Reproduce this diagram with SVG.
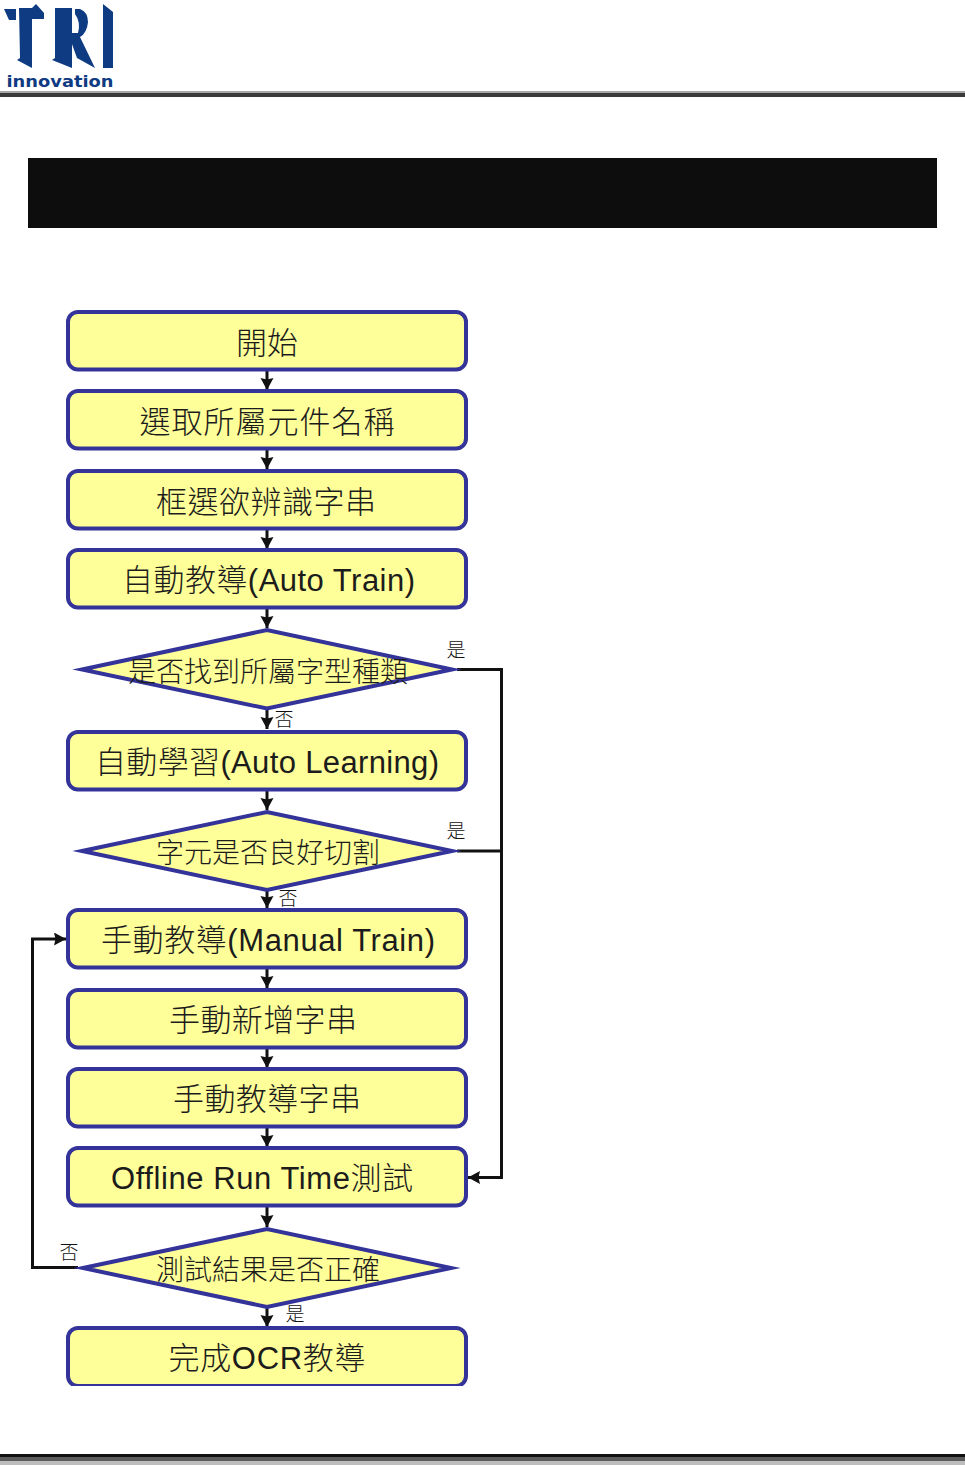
<svg xmlns="http://www.w3.org/2000/svg" width="965" height="1465" viewBox="0 0 965 1465">
<style>
.b{fill:#ffff99;stroke:#333399;stroke-width:4;stroke-miterlimit:20}
.t{font-family:"Liberation Sans","Noto Sans CJK TC",sans-serif;font-size:31px;font-weight:300;fill:#1c1c1c;text-anchor:middle}
.s{font-size:28px}
.l{font-family:"Noto Sans CJK TC",sans-serif;font-size:19px;font-weight:300;fill:#111;text-anchor:middle}
.c{fill:none;stroke:#111;stroke-width:3}
.a{stroke:#111;stroke-width:3;fill:none;marker-end:url(#m)}
</style>
<defs>
<marker id="m" markerUnits="userSpaceOnUse" markerWidth="14" markerHeight="14" refX="12" refY="6.500" orient="auto"><path d="M0 0L12 6.500L0 13L1.500 6.500Z" fill="#111"/></marker>
<clipPath id="cl"><rect x="0" y="1300" width="965" height="86"/></clipPath>
</defs>
<rect width="965" height="1465" fill="#fff"/>
<g id="logo" fill="#0f3b82">
<path d="M4 9L16 9L16 20L9 20Z"/>
<path d="M19 8L32 8L36 4L44 13L44 19L32 19L32 68L17 60L20 58Z"/>
<path d="M55 8L72 8L72 68L52 60L55 58Z"/>
<path d="M75 9L80 9Q88 12 88 22Q87 33 80 37L95 68L77 58L68 33L78 33Q81 22 75 14Z"/>
<path d="M103 4L113 12L113 68L103 68Z"/>
<text x="60" y="87" font-family="'DejaVu Sans',sans-serif" font-size="16" font-weight="700" text-anchor="middle" textLength="107" lengthAdjust="spacingAndGlyphs">innovation</text>
</g>
<g id="header-rule"><rect x="0" y="91" width="965" height="2" fill="#a8a8a8"/><rect x="0" y="93" width="965" height="4" fill="#3a3a3a"/></g>
<rect id="title-bar" x="28" y="158" width="909" height="70" fill="#0d0d0d"/>
<g id="footer-rule"><rect x="0" y="1454" width="965" height="3" fill="#111"/><rect x="0" y="1457" width="965" height="4" fill="#5c5c5c"/><rect x="0" y="1461" width="965" height="4" fill="#bdbdbd"/></g>
<g id="connectors">
<path class="a" d="M267 370V390"/><path class="a" d="M267 449V469"/><path class="a" d="M267 529V549"/><path class="a" d="M267 608V628"/>
<path class="a" d="M267 710V729"/><path class="a" d="M267 790V810"/><path class="a" d="M267 891V908"/><path class="a" d="M267 968V988"/>
<path class="a" d="M267 1048V1068"/><path class="a" d="M267 1127V1147"/><path class="a" d="M267 1207V1227"/><path class="a" d="M267 1308V1327"/>
<path class="c" d="M457 669.500H501.500V851"/>
<path class="c" d="M457 851H501.500"/>
<path class="a" d="M501.500 851V1177.500H468"/>
<path class="a" d="M78 1267.500H32.500V939H66"/>
</g>
<g id="n1"><rect class="b" x="68" y="312" width="398" height="57.500" rx="10"/><text class="t" x="267" y="354">開始</text></g>
<g id="n2"><rect class="b" x="68" y="391" width="398" height="57.500" rx="10"/><text class="t" x="267" y="433" textLength="255">選取所屬元件名稱</text></g>
<g id="n3"><rect class="b" x="68" y="471" width="398" height="57.500" rx="10"/><text class="t" x="266" y="513" textLength="220">框選欲辨識字串</text></g>
<g id="n4"><rect class="b" x="68" y="550" width="398" height="57.500" rx="10"/><text class="t" x="268.500" y="591" textLength="293">自動教導(Auto Train)</text></g>
<g id="d1"><path class="b" d="M82 669.500L267 630L452 669.500L267 708.500Z"/><text class="t s" x="268" y="682">是否找到所屬字型種類</text></g>
<g id="n5"><rect class="b" x="68" y="732" width="398" height="57.500" rx="10"/><text class="t" x="267" y="773" textLength="344">自動學習(Auto Learning)</text></g>
<g id="d2"><path class="b" d="M82 851L267 812L452 851L267 890Z"/><text class="t s" x="268" y="863">字元是否良好切割</text></g>
<g id="n6"><rect class="b" x="68" y="910" width="398" height="57.500" rx="10"/><text class="t" x="268" y="951" textLength="334">手動教導(Manual Train)</text></g>
<g id="n7"><rect class="b" x="68" y="990" width="398" height="57.500" rx="10"/><text class="t" x="263" y="1031" textLength="188">手動新增字串</text></g>
<g id="n8"><rect class="b" x="68" y="1069" width="398" height="57.500" rx="10"/><text class="t" x="267" y="1110" textLength="188">手動教導字串</text></g>
<g id="n9"><rect class="b" x="68" y="1148" width="398" height="57.500" rx="10"/><text class="t" x="262" y="1189" textLength="302">Offline Run Time測試</text></g>
<g id="d3"><path class="b" d="M83 1268L267 1229L451 1268L267 1307Z"/><text class="t s" x="268" y="1280">測試結果是否正確</text></g>
<g id="n10"><g clip-path="url(#cl)"><rect class="b" x="68" y="1328" width="398" height="58" rx="10"/></g><text class="t" x="267" y="1369" textLength="197">完成OCR教導</text></g>
<g id="labels">
<text class="l" x="456" y="657">是</text><text class="l" x="284" y="726">否</text>
<text class="l" x="456" y="838">是</text><text class="l" x="288" y="905">否</text>
<text class="l" x="69" y="1259">否</text><text class="l" x="295" y="1321">是</text>
</g>
</svg>
